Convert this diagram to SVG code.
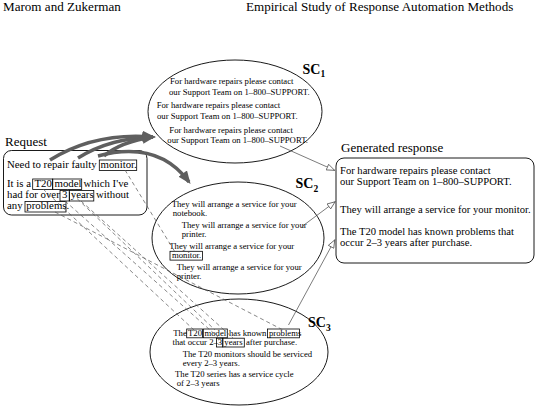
<svg xmlns="http://www.w3.org/2000/svg" width="538" height="411" viewBox="0 0 538 411">
<style>
text{font-family:"Liberation Serif","Times New Roman",serif;fill:#000}
.hd{font-size:13.1px}
.lbl{font-size:13px}
.rq{font-size:10.8px}
.gr{font-size:10.6px}
.el{font-size:8.7px}
.sc{font-size:14px;font-weight:bold}
.sub{font-size:9.5px;font-weight:bold}
.box{fill:none;stroke:#000;stroke-width:0.8}
.shape{fill:#fff;stroke:#000;stroke-width:0.9}
.thick{fill:none;stroke:#5f5f5f;stroke-width:3.5;marker-end:url(#big)}
.dash{fill:none;stroke:#555;stroke-width:0.7;stroke-dasharray:4 3}
.thin{fill:none;stroke:#444;stroke-width:0.7;marker-end:url(#open)}
</style>
<defs>
<marker id="big" viewBox="0 0 10 8" refX="8" refY="4" markerWidth="3.8" markerHeight="3" orient="auto">
<path d="M0,0 L10,4 L0,8 z" fill="#5f5f5f"/>
</marker>
<marker id="open" viewBox="0 0 10 8" refX="10" refY="4" markerUnits="userSpaceOnUse" markerWidth="9" markerHeight="7" orient="auto">
<path d="M0.5,0.5 L9.5,4 L0.5,7.5 z" fill="#fff" stroke="#444" stroke-width="0.8"/>
</marker>
</defs>

<text class="hd" x="3" y="11">Marom and Zukerman</text>
<text class="hd" x="246" y="11">Empirical Study of Response Automation Methods</text>

<g id="sc1">
<ellipse class="shape" cx="235" cy="111.5" rx="87" ry="51.5"/>
<text class="sc" x="302.5" y="73.5">SC<tspan class="sub" dy="3.5">1</tspan></text>
<text class="el" x="170" y="84.3">For hardware repairs please contact</text>
<text class="el" x="169" y="95">our Support Team on 1–800–SUPPORT.</text>
<text class="el" x="156.7" y="108">For hardware repairs please contact</text>
<text class="el" x="157" y="119">our Support Team on 1–800–SUPPORT.</text>
<text class="el" x="169.3" y="132.5">For hardware repairs please contact</text>
<text class="el" x="167.3" y="142.7">our Support Team on 1–800–SUPPORT.</text>
</g>

<g id="sc2">
<ellipse class="shape" cx="238" cy="238" rx="86" ry="56"/>
<text class="sc" x="295.5" y="188.3">SC<tspan class="sub" dy="3.5">2</tspan></text>
<text class="el" x="171.7" y="206.5">They will arrange a service for your</text>
<text class="el" x="172.7" y="215.5">notebook.</text>
<text class="el" x="181.7" y="228">They will arrange a service for your</text>
<text class="el" x="181.7" y="237">printer.</text>
<text class="el" x="169.3" y="249">They will arrange a service for your</text>
<text class="el" x="172" y="258">monitor.</text>
<rect class="box" x="170" y="251.3" width="32.5" height="8.8"/>
<text class="el" x="176.7" y="269.5">They will arrange a service for your</text>
<text class="el" x="176.7" y="278.5">printer.</text>
</g>

<g id="sc3">
<ellipse class="shape" cx="239" cy="352" rx="89" ry="53"/>
<text class="sc" x="308" y="327.3">SC<tspan class="sub" dy="3.5">3</tspan></text>
<text class="el" x="173.3" y="336">The</text>
<text class="el" x="188" y="336">T20</text>
<text class="el" x="204.5" y="336">model</text>
<text class="el" x="229" y="336">has known</text>
<text class="el" x="269" y="336">problems</text>
<rect class="box" x="186.7" y="329" width="15.8" height="8.8"/>
<rect class="box" x="203.3" y="329" width="24" height="8.8"/>
<rect class="box" x="267.5" y="329" width="32" height="8.8"/>
<text class="el" x="172.5" y="345">that occur 2–</text>
<text class="el" x="217.8" y="345">3</text>
<text class="el" x="224.3" y="345">years</text>
<text class="el" x="246" y="345">after purchase.</text>
<rect class="box" x="216.5" y="338.2" width="6.3" height="8.8"/>
<rect class="box" x="222.8" y="338.2" width="21.5" height="8.8"/>
<text class="el" x="182.7" y="357">The T20 monitors should be serviced</text>
<text class="el" x="182.7" y="366">every 2–3 years.</text>
<text class="el" x="175" y="377">The T20 series has a service cycle</text>
<text class="el" x="176.7" y="386">of 2–3 years</text>
</g>

<g id="request">
<text class="lbl" x="5" y="145.5">Request</text>
<rect class="shape" x="3.5" y="150.5" width="143.5" height="64.5" rx="8"/>
<text class="rq" x="7" y="168.3">Need to repair faulty</text>
<text class="rq" x="100.5" y="168.3">monitor.</text>
<rect class="box" x="99.3" y="160" width="37.4" height="10.5"/>
<text class="rq" x="7" y="187.3">It is a</text>
<text class="rq" x="34.5" y="187.3">T20</text>
<text class="rq" x="54.5" y="187.3">model</text>
<text class="rq" x="83.5" y="187.3">which I've</text>
<rect class="box" x="32.7" y="179" width="20" height="10.5"/>
<rect class="box" x="52.7" y="179" width="29" height="10.5"/>
<text class="rq" x="7" y="198.3">had for over</text>
<text class="rq" x="62" y="198.3">3</text>
<text class="rq" x="70.8" y="198.3">years</text>
<text class="rq" x="96" y="198.3">without</text>
<rect class="box" x="60" y="190.5" width="9.3" height="10.5"/>
<rect class="box" x="69.3" y="190.5" width="24.5" height="10.5"/>
<text class="rq" x="7" y="209.3">any</text>
<text class="rq" x="26.3" y="209.3">problems.</text>
<rect class="box" x="25" y="201.5" width="41" height="10.5"/>
</g>

<g id="response">
<text class="lbl" x="341" y="152">Generated response</text>
<rect class="shape" x="336" y="158" width="198" height="105" rx="8"/>
<text class="gr" x="340" y="174">For hardware repairs please contact</text>
<text class="gr" x="340" y="185">our Support Team on 1–800–SUPPORT.</text>
<text class="gr" x="340" y="213">They will arrange a service for your monitor.</text>
<text class="gr" x="340" y="235">The T20 model has known problems that</text>
<text class="gr" x="340" y="245.5">occur 2–3 years after purchase.</text>
</g>

<g id="connectors">
<path class="thick" d="M50,160 Q95,132 153,137"/>
<path class="thick" d="M78,158 Q110,138 153,137"/>
<path class="thick" d="M104,156 Q120,142 153,137"/>
<path class="thick" d="M98,156 Q158,140 189,182"/>
<path class="dash" d="M125,170 L175,252"/>
<path class="dash" d="M43,189 L194,330"/>
<path class="dash" d="M67,189 L215,330"/>
<path class="dash" d="M65,201 L219,338"/>
<path class="dash" d="M81,201 L233,338"/>
<path class="dash" d="M55,212 L283,330"/>
<path class="thin" d="M280,146 L335,170.5"/>
<path class="thin" d="M301.7,226.7 L335.5,201.5"/>
<path class="thin" d="M288.5,325 L335,239.5"/>
</g>
</svg>
